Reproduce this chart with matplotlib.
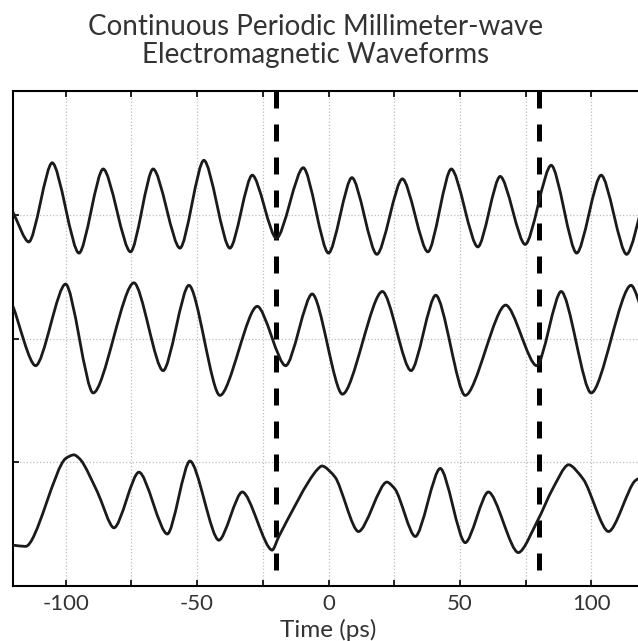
import matplotlib
matplotlib.use("Agg")
import matplotlib.pyplot as plt
from matplotlib.path import Path
from matplotlib.patches import PathPatch

# waveform turning points (time in ps, offset amplitude)
t_top = [-120, -114.0, -105.1, -94.9, -85.7, -75.3, -66.7, -56.5, -47.4, -37.5, -29.0, -19.8,
         -9.6, 0.0, 8.9, 18.4, 28.1, 37.8, 46.7, 56.8, 65.3, 74.8, 84.7, 94.4, 103.7, 113.4, 120]
v_top = [2.02, 1.78, 2.42, 1.69, 2.37, 1.70, 2.37, 1.73, 2.44, 1.73, 2.32, 1.81,
         2.38, 1.69, 2.30, 1.68, 2.29, 1.70, 2.37, 1.74, 2.31, 1.76, 2.40, 1.69, 2.32, 1.68, 2.12]

t_mid = [-120, -111.4, -100.0, -89.5, -74.0, -62.9, -53.1, -41.3, -27.1, -16.3, -6.2,
         5.3, 20.5, 31.4, 40.8, 52.0, 67.4, 79.2, 88.5, 99.9, 115.1, 120]
v_mid = [1.26, 0.78, 1.44, 0.56, 1.45, 0.74, 1.43, 0.54, 1.26, 0.78, 1.36,
         0.55, 1.38, 0.74, 1.35, 0.54, 1.27, 0.78, 1.38, 0.56, 1.43, 1.18]

t_bot = [-120, -115.2, -100.0, -96.8, -94.3, -87.9, -81.6, -72.1, -61.3, -52.7, -41.7, -32.8,
         -21.4, -18.9, -4.3, -2.5, 2.5, 11.4, 22.2, 25.4, 33.0, 42.5, 52.0, 60.8, 72.2,
         79.8, 84.9, 91.3, 97.0, 106.5, 116.6, 120]
v_bot = [-0.67, -0.68, 0.03, 0.06, 0.02, -0.24, -0.53, -0.08, -0.58, 0.01, -0.63, -0.24,
         -0.71, -0.60, -0.06, -0.03, -0.12, -0.56, -0.16, -0.22, -0.60, -0.05, -0.65, -0.24, -0.73,
         -0.46, -0.23, -0.02, -0.14, -0.56, -0.15, -0.11]

markers_t = [-20, 80]
xticks = [-100, -75, -50, -25, 0, 25, 50, 75, 100]
xticklabels = ["-100", "", "-50", "", "0", "", "50", "", "100"]
yticks = [0, 1, 2]


def smooth_path(t, v, a=0.27):
    # cubic bezier through the turning points, flat at peaks and troughs
    n = len(t)
    m = []
    for i in range(n):
        if i == 0:
            m.append((v[1] - v[0]) / (t[1] - t[0]))
        elif i == n - 1:
            m.append((v[-1] - v[-2]) / (t[-1] - t[-2]))
        else:
            d0 = (v[i] - v[i - 1]) / (t[i] - t[i - 1])
            d1 = (v[i + 1] - v[i]) / (t[i + 1] - t[i])
            m.append(0.0 if d0 * d1 <= 0 else 2 / (1 / d0 + 1 / d1))
    verts = [(t[0], v[0])]
    codes = [Path.MOVETO]
    for i in range(n - 1):
        h = t[i + 1] - t[i]
        verts += [(t[i] + a * h, v[i] + m[i] * a * h),
                  (t[i + 1] - a * h, v[i + 1] - m[i + 1] * a * h),
                  (t[i + 1], v[i + 1])]
        codes += [Path.CURVE4] * 3
    return Path(verts, codes)


plt.rcParams["font.family"] = ["Lato", "DejaVu Sans"]

fig = plt.figure(figsize=(6.38, 6.41), dpi=100)
ax = fig.add_axes([13 / 638, 1 - 586 / 641, 631 / 638, 495 / 641])

for x in markers_t:
    ax.plot([x, x], [3, -1], color="black", linewidth=3.6, linestyle=(0, (3.4, 3.2)),
            dash_capstyle="butt", zorder=3)

for t, v in [(t_top, v_top), (t_mid, v_mid), (t_bot, v_bot)]:
    ax.add_patch(PathPatch(smooth_path(t, v), fill=False, edgecolor="#1a1a1a",
                           linewidth=2.0, joinstyle="round", zorder=4))

ax.set_xlim(-120, 120)
ax.set_ylim(-1, 3)
ax.set_xticks(xticks)
ax.set_xticklabels(xticklabels)
ax.set_yticks(yticks)
ax.set_yticklabels([])
ax.grid(True, color="#bdbdbd", linestyle=":", linewidth=0.9)
ax.tick_params(direction="in", top=True, right=True, length=4, width=1.2,
               labelsize=16, labelcolor="#333333", pad=6)
for s in ax.spines.values():
    s.set_linewidth(1.5)
ax.set_xlabel("Time (ps)", fontsize=17.5, color="#333333", labelpad=3)

fig.text(316 / 638, 1 - 35 / 641, "Continuous Periodic Millimeter-wave",
         ha="center", va="baseline", fontsize=20, color="#333333")
fig.text(316 / 638, 1 - 63 / 641, "Electromagnetic Waveforms",
         ha="center", va="baseline", fontsize=20, color="#333333")

fig.savefig("out.png", dpi=100)
